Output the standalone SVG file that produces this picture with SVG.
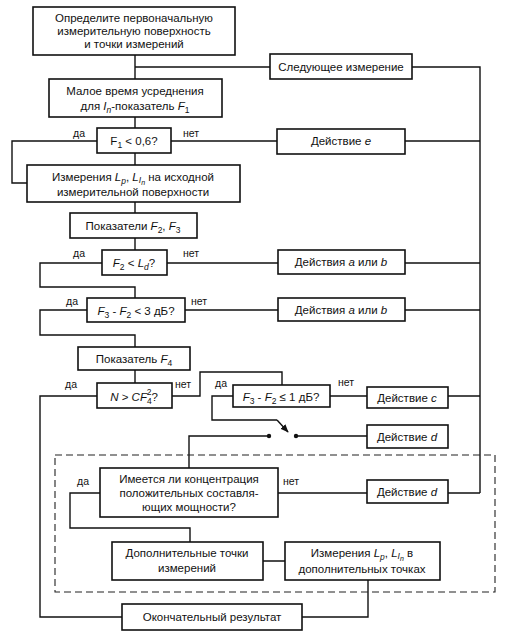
<svg xmlns="http://www.w3.org/2000/svg" width="520" height="634" viewBox="0 0 520 634">
<defs>
<style>
.b{fill:#fff;stroke:#111;stroke-width:1.6}
.c{fill:none;stroke:#111;stroke-width:1.4}
.d{fill:none;stroke:#222;stroke-width:1.1;stroke-dasharray:7 4}
text{font-family:"Liberation Sans",Arial,sans-serif;font-size:11.5px;fill:#111;text-anchor:middle}
.l{font-size:10.5px;text-anchor:start}
.i{font-style:italic}
.s{font-size:8.5px}
</style>
<marker id="ah" viewBox="0 0 10 10" refX="9" refY="5" markerWidth="6" markerHeight="6" orient="auto"><path d="M0,1 L10,5 L0,9 Z" fill="#111"/></marker>
</defs>
<rect width="520" height="634" fill="#fff"/>
<g id="connectors">
<path class="c" d="M135,55 V79 M135,67 H270 M412,67 H480 V493 M135,117 V128"/>
<path class="c" d="M97,141 H12 V183 H27 M171,141 H277 M405,141 H480"/>
<path class="c" d="M135,153 V165 M135,202 V213 M135,238 V250"/>
<path class="c" d="M102,263 H40 V287 H135 V298 M167,263 H278 M405,263 H480"/>
<path class="c" d="M87,310 H40 V335 H135 V347 M185,310 H278 M405,310 H480"/>
<path class="c" d="M135,370 V383 M97,396 H40 V617 H122 M172,396 H200 V372 H282 V385"/>
<path class="c" d="M330,396 H367 M448,396 H480 M233,396 H212 V420 H277"/>
<path class="c" d="M277,420 L288,432" marker-end="url(#ah)"/>
<circle cx="269" cy="436" r="2.2" fill="#111"/>
<circle cx="296" cy="436" r="2.2" fill="#111"/>
<path class="c" d="M269,436 H189 V468 M296,436 H367"/>
<path class="c" d="M100,493 H70 V528 H190 V542 M278,493 H367 M448,493 H480"/>
<path class="c" d="M263,561 H285 M368,580 V617 H302"/>
</g>
<rect id="group" class="d" x="55" y="455" width="440" height="137"/>
<g id="n1"><rect class="b" x="33" y="7" width="202" height="48"/>
<text x="134" y="22">Определите первоначальную</text>
<text x="134" y="35">измерительную поверхность</text>
<text x="134" y="48">и точки измерений</text></g>
<g id="n_next"><rect class="b" x="270" y="54" width="142" height="25"/>
<text x="341" y="71">Следующее измерение</text></g>
<g id="n2"><rect class="b" x="49" y="79" width="173" height="38"/>
<text x="135" y="95">Малое время усреднения</text>
<text x="135" y="110">для <tspan class="i">I</tspan><tspan class="s i" dy="3">n</tspan><tspan dy="-3">-показатель </tspan><tspan class="i">F</tspan><tspan class="s" dy="3">1</tspan></text></g>
<g id="q1"><rect class="b" x="97" y="128" width="74" height="25"/>
<text x="134" y="145">F<tspan class="s" dy="3">1</tspan><tspan dy="-3"> &lt; 0,6?</tspan></text>
<text class="l" x="73" y="137">да</text><text class="l" x="183" y="137">нет</text></g>
<g id="act_e"><rect class="b" x="277" y="129" width="128" height="25"/>
<text x="341" y="145">Действие <tspan class="i">e</tspan></text></g>
<g id="n3"><rect class="b" x="27" y="165" width="213" height="37"/>
<text x="133" y="181">Измерения <tspan class="i">L</tspan><tspan class="s i" dy="3">p</tspan><tspan dy="-3">, </tspan><tspan class="i">L</tspan><tspan class="s i" dy="2">I</tspan><tspan class="i" font-size="7" dy="2">n</tspan><tspan dy="-4"> на исходной</tspan></text>
<text x="133" y="196">измерительной поверхности</text></g>
<g id="n4"><rect class="b" x="70" y="213" width="127" height="25"/>
<text x="133" y="230">Показатели <tspan class="i">F</tspan><tspan class="s" dy="3">2</tspan><tspan dy="-3">, </tspan><tspan class="i">F</tspan><tspan class="s" dy="3">3</tspan></text></g>
<g id="q2"><rect class="b" x="102" y="250" width="65" height="25"/>
<text x="134" y="267"><tspan class="i">F</tspan><tspan class="s" dy="3">2</tspan><tspan dy="-3"> &lt; </tspan><tspan class="i">L</tspan><tspan class="s i" dy="3">d</tspan><tspan dy="-3">?</tspan></text>
<text class="l" x="73" y="257">да</text><text class="l" x="183" y="257">нет</text></g>
<g id="act_ab1"><rect class="b" x="278" y="250" width="127" height="24"/>
<text x="341" y="266">Действия <tspan class="i">a</tspan> или <tspan class="i">b</tspan></text></g>
<g id="q3"><rect class="b" x="87" y="298" width="98" height="24"/>
<text x="136" y="315"><tspan class="i">F</tspan><tspan class="s" dy="3">3</tspan><tspan dy="-3"> - </tspan><tspan class="i">F</tspan><tspan class="s" dy="3">2</tspan><tspan dy="-3"> &lt; 3 дБ?</tspan></text>
<text class="l" x="66" y="305">да</text><text class="l" x="191" y="305">нет</text></g>
<g id="act_ab2"><rect class="b" x="278" y="298" width="127" height="23"/>
<text x="341" y="314">Действия <tspan class="i">a</tspan> или <tspan class="i">b</tspan></text></g>
<g id="n5"><rect class="b" x="78" y="347" width="112" height="23"/>
<text x="134" y="363">Показатель <tspan class="i">F</tspan><tspan class="s" dy="3">4</tspan></text></g>
<g id="q4"><rect class="b" x="97" y="383" width="75" height="25"/>
<text x="134" y="401"><tspan class="i">N</tspan> &gt; <tspan class="i">CF</tspan><tspan class="s" dy="3">4</tspan><tspan class="s" dx="-5" dy="-9">2</tspan><tspan dy="6">?</tspan></text>
<text class="l" x="65" y="388">да</text><text class="l" x="175" y="388">нет</text></g>
<g id="q5"><rect class="b" x="233" y="385" width="97" height="22"/>
<text x="281" y="401"><tspan class="i">F</tspan><tspan class="s" dy="3">3</tspan><tspan dy="-3"> - </tspan><tspan class="i">F</tspan><tspan class="s" dy="3">2</tspan><tspan dy="-3"> ≤ 1 дБ?</tspan></text>
<text class="l" x="215" y="387">да</text><text class="l" x="338" y="386">нет</text></g>
<g id="act_c"><rect class="b" x="367" y="387" width="81" height="21"/>
<text x="407" y="402">Действие <tspan class="i">c</tspan></text></g>
<g id="act_d1"><rect class="b" x="367" y="425" width="81" height="23"/>
<text x="407" y="441">Действие <tspan class="i">d</tspan></text></g>
<g id="q6"><rect class="b" x="100" y="468" width="178" height="49"/>
<text x="189" y="483">Имеется ли концентрация</text>
<text x="189" y="497">положительных составля-</text>
<text x="189" y="511">ющих мощности?</text>
<text class="l" x="77" y="485">да</text><text class="l" x="283" y="485">нет</text></g>
<g id="act_d2"><rect class="b" x="367" y="480" width="81" height="23"/>
<text x="407" y="496">Действие <tspan class="i">d</tspan></text></g>
<g id="n6"><rect class="b" x="112" y="542" width="151" height="38"/>
<text x="187" y="557">Дополнительные точки</text>
<text x="187" y="572">измерений</text></g>
<g id="n7"><rect class="b" x="285" y="542" width="155" height="38"/>
<text x="362" y="557">Измерения <tspan class="i">L</tspan><tspan class="s i" dy="3">p</tspan><tspan dy="-3">, </tspan><tspan class="i">L</tspan><tspan class="s i" dy="2">I</tspan><tspan class="i" font-size="7" dy="2">n</tspan><tspan dy="-4"> в</tspan></text>
<text x="362" y="573">дополнительных точках</text></g>
<g id="n8"><rect class="b" x="122" y="604" width="180" height="26"/>
<text x="212" y="621">Окончательный результат</text></g>
</svg>
